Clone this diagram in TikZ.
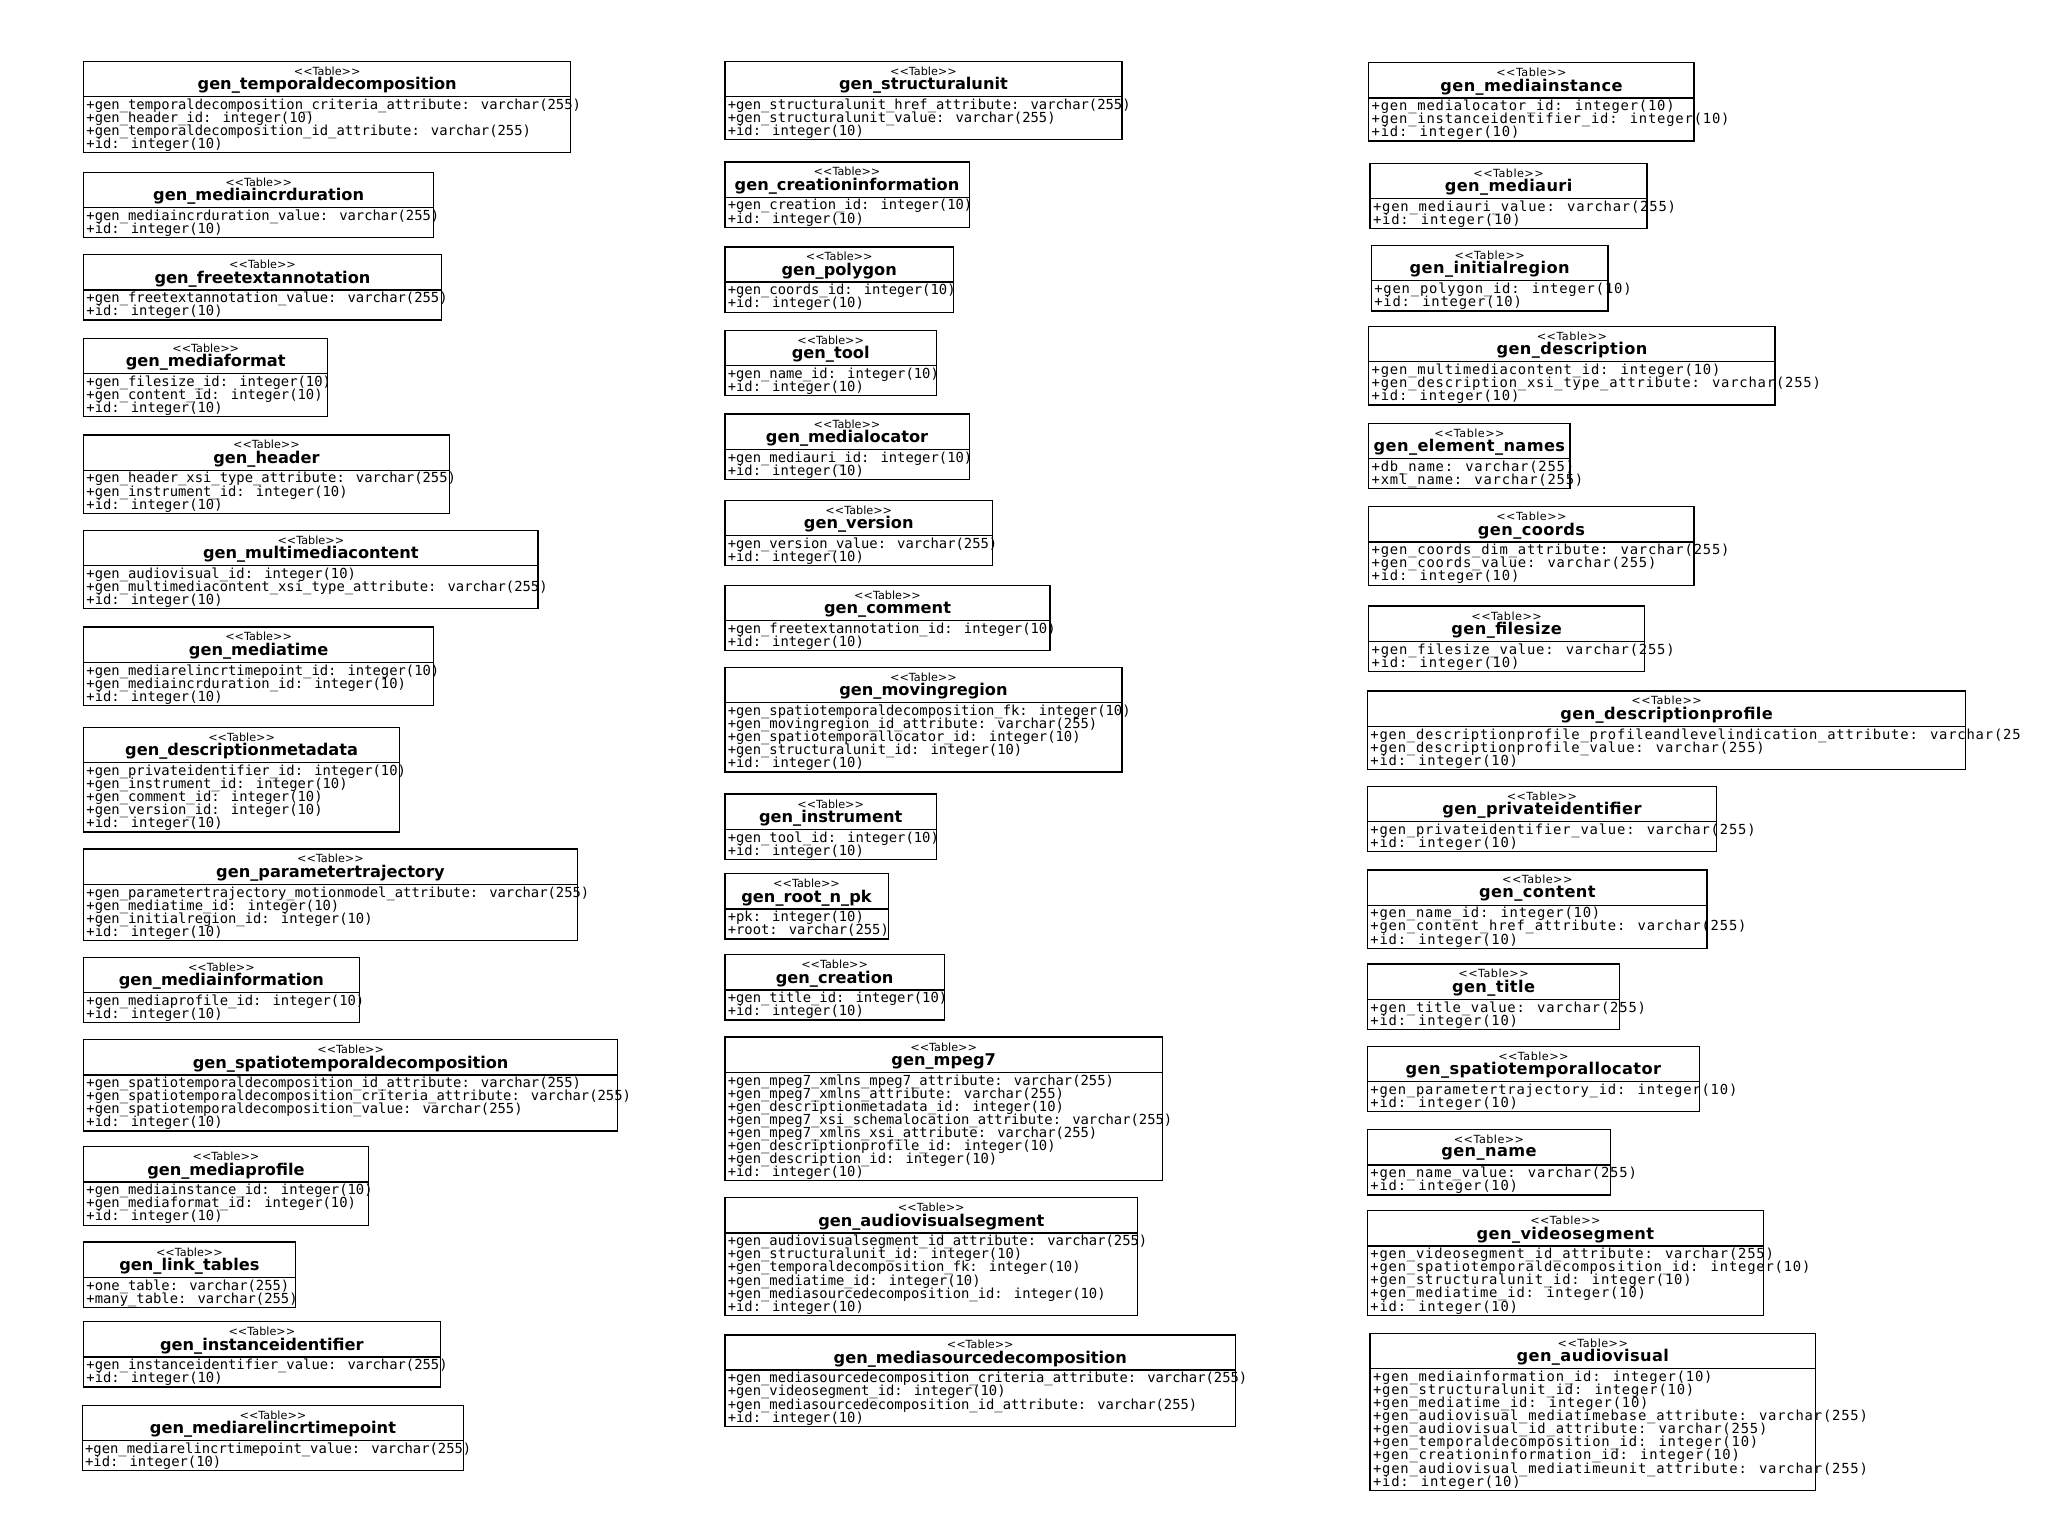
\documentclass[tikz,border=0pt]{standalone}
\usepackage{fontspec}
\newfontfamily\nmono{DejaVu Sans Mono}
\newfontfamily\wmono[LetterSpace=5.8]{DejaVu Sans Mono}
\newfontfamily\nsans{DejaVu Sans}
\newfontfamily\wsans[LetterSpace=4]{DejaVu Sans}
\newfontfamily\nsansb{DejaVu Sans Bold}
\newfontfamily\wsansb[LetterSpace=2.5]{DejaVu Sans Bold}
\catcode`\_=12
\def\tight{\lineskip=0pt\lineskiplimit=-100pt}
\def\attrfont{\nmono\fontsize{10.6}{10}\selectfont\tight}
\def\titfont{\nsansb\fontsize{12.4}{12}\selectfont}
\def\stfont{\nsans\fontsize{8.6}{9}\selectfont}
\tikzset{
  tbox/.style={draw=black,line width=1pt},
  stereo/.style={inner sep=0pt,font=\stfont},
  ttitle/.style={inner sep=0pt,font=\titfont},
  attrs/.style={inner sep=0pt,anchor=north west,align=left,font=\attrfont}
}
% #1 name  #2 left  #3 top  #4 right  #5 lines  #6 text
\newcommand\tb[6]{%
  \draw[tbox] (#2,-#3) rectangle (#4,{-#3-30-10*#5});
  \draw[tbox] (#2,{-#3-27}) -- (#4,{-#3-27});
  \node[stereo] (#1-s) at ({(#2+#4)/2},{-#3-7.5}) {<<Table>>};
  \node[ttitle] (#1) at ({(#2+#4)/2},{-#3-18.5}) {#1};
  \node[attrs] (#1-a) at ({#2+2},{-#3-28.5}) {#6};
}
\begin{document}
\begin{tikzpicture}[x=1pt,y=1pt]
\useasboundingbox (0,0) rectangle (1568,-1176);
% column 1
\tb{gen_temporaldecomposition}{64}{47}{437}{4}{+gen_temporaldecomposition_criteria_attribute: varchar(255)\\+gen_header_id: integer(10)\\+gen_temporaldecomposition_id_attribute: varchar(255)\\+id: integer(10)}
\tb{gen_mediaincrduration}{64}{132}{332}{2}{+gen_mediaincrduration_value: varchar(255)\\+id: integer(10)}
\tb{gen_freetextannotation}{64}{195}{338}{2}{+gen_freetextannotation_value: varchar(255)\\+id: integer(10)}
\tb{gen_mediaformat}{64}{259}{251}{3}{+gen_filesize_id: integer(10)\\+gen_content_id: integer(10)\\+id: integer(10)}
\tb{gen_header}{64}{333}{344}{3}{+gen_header_xsi_type_attribute: varchar(255)\\+gen_instrument_id: integer(10)\\+id: integer(10)}
\tb{gen_multimediacontent}{64}{406}{412}{3}{+gen_audiovisual_id: integer(10)\\+gen_multimediacontent_xsi_type_attribute: varchar(255)\\+id: integer(10)}
\tb{gen_mediatime}{64}{480}{332}{3}{+gen_mediarelincrtimepoint_id: integer(10)\\+gen_mediaincrduration_id: integer(10)\\+id: integer(10)}
\tb{gen_descriptionmetadata}{64}{557}{306}{5}{+gen_privateidentifier_id: integer(10)\\+gen_instrument_id: integer(10)\\+gen_comment_id: integer(10)\\+gen_version_id: integer(10)\\+id: integer(10)}
\tb{gen_parametertrajectory}{64}{650}{442}{4}{+gen_parametertrajectory_motionmodel_attribute: varchar(255)\\+gen_mediatime_id: integer(10)\\+gen_initialregion_id: integer(10)\\+id: integer(10)}
\tb{gen_mediainformation}{64}{733}{275}{2}{+gen_mediaprofile_id: integer(10)\\+id: integer(10)}
\tb{gen_spatiotemporaldecomposition}{64}{796}{473}{4}{+gen_spatiotemporaldecomposition_id_attribute: varchar(255)\\+gen_spatiotemporaldecomposition_criteria_attribute: varchar(255)\\+gen_spatiotemporaldecomposition_value: varchar(255)\\+id: integer(10)}
\tb{gen_mediaprofile}{64}{878}{282}{3}{+gen_mediainstance_id: integer(10)\\+gen_mediaformat_id: integer(10)\\+id: integer(10)}
\tb{gen_link_tables}{64}{951}{226}{2}{+one_table: varchar(255)\\+many_table: varchar(255)}
\tb{gen_instanceidentifier}{64}{1012}{337}{2}{+gen_instanceidentifier_value: varchar(255)\\+id: integer(10)}
\tb{gen_mediarelincrtimepoint}{63}{1076}{355}{2}{+gen_mediarelincrtimepoint_value: varchar(255)\\+id: integer(10)}
% column 2
\tb{gen_structuralunit}{555}{47}{859}{3}{+gen_structuralunit_href_attribute: varchar(255)\\+gen_structuralunit_value: varchar(255)\\+id: integer(10)}
\tb{gen_creationinformation}{555}{124}{742}{2}{+gen_creation_id: integer(10)\\+id: integer(10)}
\tb{gen_polygon}{555}{189}{730}{2}{+gen_coords_id: integer(10)\\+id: integer(10)}
\tb{gen_tool}{555}{253}{717}{2}{+gen_name_id: integer(10)\\+id: integer(10)}
\tb{gen_medialocator}{555}{317}{742}{2}{+gen_mediauri_id: integer(10)\\+id: integer(10)}
\tb{gen_version}{555}{383}{760}{2}{+gen_version_value: varchar(255)\\+id: integer(10)}
\tb{gen_comment}{555}{448}{804}{2}{+gen_freetextannotation_id: integer(10)\\+id: integer(10)}
\tb{gen_movingregion}{555}{511}{859}{5}{+gen_spatiotemporaldecomposition_fk: integer(10)\\+gen_movingregion_id_attribute: varchar(255)\\+gen_spatiotemporallocator_id: integer(10)\\+gen_structuralunit_id: integer(10)\\+id: integer(10)}
\tb{gen_instrument}{555}{608}{717}{2}{+gen_tool_id: integer(10)\\+id: integer(10)}
\tb{gen_root_n_pk}{555}{669}{680}{2}{+pk: integer(10)\\+root: varchar(255)}
\tb{gen_creation}{555}{731}{723}{2}{+gen_title_id: integer(10)\\+id: integer(10)}
\tb{gen_mpeg7}{555}{794}{890}{8}{+gen_mpeg7_xmlns_mpeg7_attribute: varchar(255)\\+gen_mpeg7_xmlns_attribute: varchar(255)\\+gen_descriptionmetadata_id: integer(10)\\+gen_mpeg7_xsi_schemalocation_attribute: varchar(255)\\+gen_mpeg7_xmlns_xsi_attribute: varchar(255)\\+gen_descriptionprofile_id: integer(10)\\+gen_description_id: integer(10)\\+id: integer(10)}
\tb{gen_audiovisualsegment}{555}{917}{871}{6}{+gen_audiovisualsegment_id_attribute: varchar(255)\\+gen_structuralunit_id: integer(10)\\+gen_temporaldecomposition_fk: integer(10)\\+gen_mediatime_id: integer(10)\\+gen_mediasourcedecomposition_id: integer(10)\\+id: integer(10)}
\tb{gen_mediasourcedecomposition}{555}{1022}{946}{4}{+gen_mediasourcedecomposition_criteria_attribute: varchar(255)\\+gen_videosegment_id: integer(10)\\+gen_mediasourcedecomposition_id_attribute: varchar(255)\\+id: integer(10)}
% column 3
\def\attrfont{\wmono\fontsize{10.6}{10}\selectfont\tight}
\def\titfont{\wsansb\fontsize{12.4}{12}\selectfont}
\def\stfont{\wsans\fontsize{8.6}{9}\selectfont}
\tb{gen_mediainstance}{1048}{48}{1297}{3}{+gen_medialocator_id: integer(10)\\+gen_instanceidentifier_id: integer(10)\\+id: integer(10)}
\tb{gen_mediauri}{1049}{125}{1261}{2}{+gen_mediauri_value: varchar(255)\\+id: integer(10)}
\tb{gen_initialregion}{1050}{188}{1231}{2}{+gen_polygon_id: integer(10)\\+id: integer(10)}
\tb{gen_description}{1048}{250}{1359}{3}{+gen_multimediacontent_id: integer(10)\\+gen_description_xsi_type_attribute: varchar(255)\\+id: integer(10)}
\tb{gen_element_names}{1048}{324}{1202}{2}{+db_name: varchar(255)\\+xml_name: varchar(255)}
\tb{gen_coords}{1048}{388}{1297}{3}{+gen_coords_dim_attribute: varchar(255)\\+gen_coords_value: varchar(255)\\+id: integer(10)}
\tb{gen_filesize}{1048}{464}{1259}{2}{+gen_filesize_value: varchar(255)\\+id: integer(10)}
\tb{gen_descriptionprofile}{1047}{529}{1505}{3}{+gen_descriptionprofile_profileandlevelindication_attribute: varchar(25\\+gen_descriptionprofile_value: varchar(255)\\+id: integer(10)}
\tb{gen_privateidentifier}{1047}{602}{1314}{2}{+gen_privateidentifier_value: varchar(255)\\+id: integer(10)}
\tb{gen_content}{1047}{666}{1307}{3}{+gen_name_id: integer(10)\\+gen_content_href_attribute: varchar(255)\\+id: integer(10)}
\tb{gen_title}{1047}{738}{1240}{2}{+gen_title_value: varchar(255)\\+id: integer(10)}
\tb{gen_spatiotemporallocator}{1047}{801}{1301}{2}{+gen_parametertrajectory_id: integer(10)\\+id: integer(10)}
\tb{gen_name}{1047}{865}{1233}{2}{+gen_name_value: varchar(255)\\+id: integer(10)}
\tb{gen_videosegment}{1047}{927}{1350}{5}{+gen_videosegment_id_attribute: varchar(255)\\+gen_spatiotemporaldecomposition_id: integer(10)\\+gen_structuralunit_id: integer(10)\\+gen_mediatime_id: integer(10)\\+id: integer(10)}
\tb{gen_audiovisual}{1049}{1021}{1390}{9}{+gen_mediainformation_id: integer(10)\\+gen_structuralunit_id: integer(10)\\+gen_mediatime_id: integer(10)\\+gen_audiovisual_mediatimebase_attribute: varchar(255)\\+gen_audiovisual_id_attribute: varchar(255)\\+gen_temporaldecomposition_id: integer(10)\\+gen_creationinformation_id: integer(10)\\+gen_audiovisual_mediatimeunit_attribute: varchar(255)\\+id: integer(10)}
\end{tikzpicture}
\end{document}
